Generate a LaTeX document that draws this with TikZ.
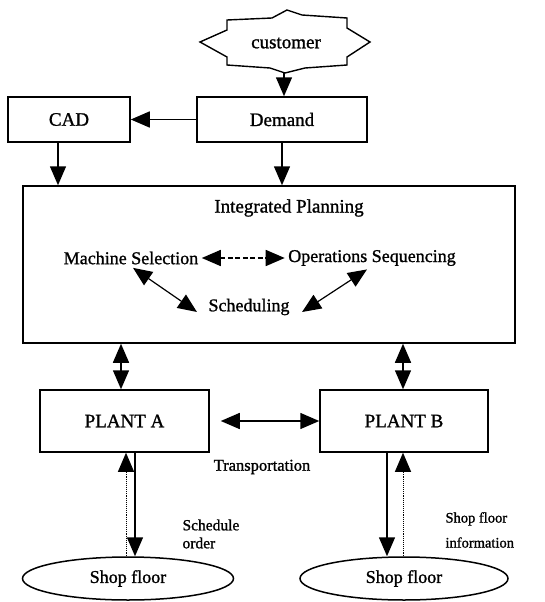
\documentclass[tikz,border=0pt]{standalone}
\usepackage{fontspec}
\setmainfont{Liberation Serif}[FakeBold=1.2]
\usetikzlibrary{arrows.meta,shapes.geometric}
\begin{document}
\begin{tikzpicture}[x=1pt,y=-1pt,
  box/.style={draw,line width=1.5pt,inner sep=0pt},
  bigtxt/.style={font=\fontsize{19}{22}\selectfont},
  midtxt/.style={font=\fontsize{18}{21}\selectfont},
  smalltxt/.style={font=\fontsize{16.5}{19}\selectfont},
  ovaltxt/.style={font=\fontsize{18}{21}\selectfont},
  labtxt/.style={font=\fontsize{15.5}{18}\selectfont},
  arr/.style={line width=1.5pt,-{Triangle[length=19pt,width=16pt]}},
  darr/.style={line width=1.5pt,{Triangle[length=19pt,width=16pt]}-{Triangle[length=19pt,width=16pt]}},
  uparr/.style={line width=0.9pt,densely dotted,-{Triangle[length=19pt,width=16pt]}},
  oval/.style={draw,ellipse,line width=1.5pt,inner sep=0pt}
]
\useasboundingbox (0,0) rectangle (544,602);

% customer star
\node[bigtxt] (cust) at (286,43) {customer};
\draw[line width=1.4pt] (200,42) -- (227,30) -- (227,20) -- (272,18) -- (287,10) -- (302,15) -- (347,18)
  -- (347,28) -- (370,42) -- (347,57) -- (347,65) -- (305,68) -- (285,73) -- (270,68) -- (227,65)
  -- (227,57) -- cycle;
\coordinate (custb) at (284,73);

% boxes
\node[box,bigtxt,minimum width=122pt,minimum height=45pt] (cad) at (69,119.5) {CAD};
\node[box,bigtxt,minimum width=170pt,minimum height=45pt] (dem) at (282,119.5) {Demand};
\node[box,minimum width=492pt,minimum height=157pt] (ip) at (269,264.5) {};
\node[box,bigtxt,minimum width=169pt,minimum height=62pt] (pa) at (124.5,421) {PLANT A};
\node[box,bigtxt,minimum width=168pt,minimum height=62pt] (pb) at (404,421) {PLANT B};
\node[oval,ovaltxt,minimum width=211pt,minimum height=43pt] (sf1) at (128,578.5) {Shop floor};
\node[oval,ovaltxt,minimum width=208pt,minimum height=43pt] (sf2) at (404,578.5) {Shop floor};

% texts inside integrated planning
\node[bigtxt] (ipt) at (289,208) {Integrated Planning};
\node[midtxt] (ms) at (131,258) {Machine Selection};
\node[midtxt] (os) at (372,258) {Operations Sequencing};
\node[midtxt] (sch) at (249,307) {Scheduling};

% labels
\node[smalltxt] (trans) at (262,467) {Transportation};
\node[labtxt,anchor=west,align=left] (so) at (179,534) {Schedule\\order};
\node[labtxt,anchor=west,align=left,font=\fontsize{14.5}{25}\selectfont] (sfi) at (442,530) {Shop floor\\information};

% top arrows
\draw[arr] (custb) -- (custb |- dem.north);
\draw[arr] (dem.west) -- (cad.east);
\path ([xshift=-11pt]cad.south) coordinate (cads);
\draw[arr] (cads) -- (cads |- ip.north);
\draw[arr] (dem.south) -- (dem.south |- ip.north);

% inside IP
\draw[darr,dash pattern=on 5pt off 2.5pt] (ms.east) -- (os.west);
\draw[darr,line width=1.2pt] ([xshift=2pt]ms.south) -- ([xshift=-8pt,yshift=-5pt]sch.west);
\draw[darr,line width=1.2pt] ([xshift=-5pt]os.south) -- ([xshift=9pt,yshift=-5pt]sch.east);

% IP to plants
\path ([xshift=-3.5pt]pa.north) coordinate (pan);
\path ([xshift=-1pt]pb.north) coordinate (pbn);
\draw[darr] (pan |- ip.south) -- (pan);
\draw[darr] (pbn |- ip.south) -- (pbn);

% transportation
\draw[darr] ([xshift=11pt]pa.east) -- (pb.west);

% plant A to shop floor
\path ([xshift=10.5pt]pa.south) coordinate (pas);
\path ([xshift=1.5pt]pa.south) coordinate (pau);
\draw[arr] (pas) -- (pas |- sf1.north);
\draw[uparr] (pau |- sf1.north) -- (pau);

% plant B to shop floor
\path ([xshift=-17pt]pb.south) coordinate (pbs);
\path ([xshift=-1pt]pb.south) coordinate (pbu);
\draw[arr] (pbs) -- (pbs |- sf2.north);
\draw[uparr] (pbu |- sf2.north) -- (pbu);
\end{tikzpicture}
\end{document}
